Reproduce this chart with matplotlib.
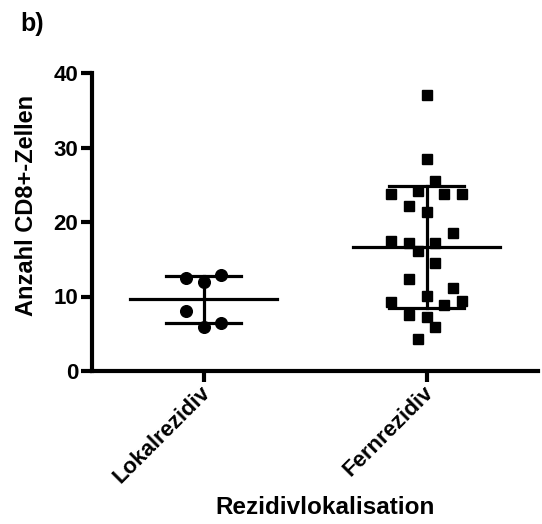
import matplotlib
matplotlib.use("Agg")
import matplotlib.pyplot as plt
import matplotlib.transforms as mtransforms
import numpy as np

plt.rcParams['font.family'] = ['Liberation Sans', 'DejaVu Sans']
plt.rcParams['font.weight'] = 'bold'

# Data
categories = ["Lokalrezidiv", "Fernrezidiv"]
lokal_values = [12.5, 11.9, 12.9, 8.05, 5.9, 6.4]
fern_values = [37.1, 28.5, 25.5, 23.8, 24.1, 23.8, 23.8, 22.2, 21.4,
               18.5, 17.4, 17.2, 17.2, 16.1, 14.5, 12.4, 11.1, 10.1,
               9.4, 9.2, 8.9, 7.5, 7.2, 5.9, 4.3]
y_ticks = [0, 10, 20, 30, 40]

# Horizontal scatter slots (in units of one marker step) for each point
lokal_slots = [-2, 0, 2, -2, 0, 2]
fern_slots = [0, 0, 1, -4, -1, 2, 4, -2, 0,
              3, -4, -2, 1, -1, 1, -2, 3, 0,
              4, -4, 2, -2, 0, 1, -1]

W, H, DPI = 542, 524, 100
fig = plt.figure(figsize=(W / DPI, H / DPI), dpi=DPI)
ax = fig.add_axes([92 / W, 153 / H, (538 - 92) / W, (371 - 73) / H])

step = 9 / 224.0
groups = [(lokal_values, lokal_slots, 'o'), (fern_values, fern_slots, 's')]
for i, (vals, slots, mk) in enumerate(groups):
    vals = np.asarray(vals)
    xs = i + np.asarray(slots) * step
    mean = vals.mean()
    sd = vals.std(ddof=1)
    ax.plot(xs, vals, linestyle='none', marker=mk, color='black',
            markersize=8.4 if mk == 'o' else 7.8, zorder=3)
    ax.plot([i - 0.33, i + 0.33], [mean, mean], color='black', lw=2.3, zorder=2)
    ax.plot([i, i], [mean - sd, mean + sd], color='black', lw=2.3, zorder=2)
    for yv in (mean - sd, mean + sd):
        ax.plot([i - 0.17, i + 0.17], [yv, yv], color='black', lw=2.3, zorder=2)

ax.set_xlim(-0.5, 1.5)
ax.set_ylim(0, 40)
ax.set_yticks(y_ticks)
ax.set_yticklabels([str(t) for t in y_ticks], fontsize=16, fontweight='bold')
ax.set_xticks(range(len(categories)))
ax.set_xticklabels(categories, rotation=45, ha='right', va='top',
                   rotation_mode='anchor', fontsize=16, fontweight='bold')

for side in ('top', 'right'):
    ax.spines[side].set_visible(False)
for side in ('left', 'bottom'):
    ax.spines[side].set_linewidth(3)
ax.tick_params(axis='both', width=3, length=8, pad=2)
ax.tick_params(axis='x', pad=0)

# nudge the rotated category labels slightly left
shift = mtransforms.ScaledTranslation(-4 / DPI, 0, fig.dpi_scale_trans)
for lbl in ax.get_xticklabels():
    lbl.set_transform(lbl.get_transform() + shift)

fig.text(27 / W, 1 - 205 / H, "Anzahl CD8+-Zellen", rotation=90,
         ha='center', va='center', fontsize=17, fontweight='bold')
fig.text(325 / W, 1 - 508 / H, "Rezidivlokalisation",
         ha='center', va='center', fontsize=17.5, fontweight='bold')
fig.text(20 / W, 1 - 24 / H, "b)", ha='left', va='center',
         fontsize=18, fontweight='bold')

fig.savefig("out.png", dpi=DPI)
